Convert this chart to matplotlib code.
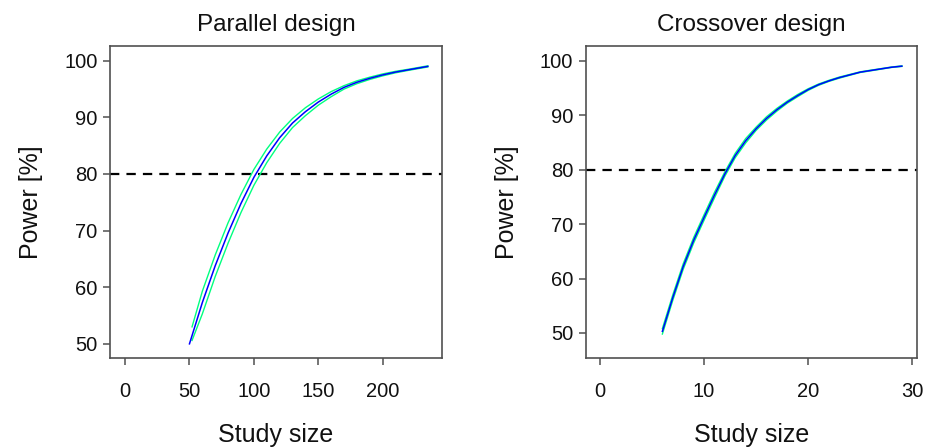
import matplotlib
matplotlib.use("Agg")
import matplotlib.pyplot as plt

plt.rcParams['font.family'] = ['Liberation Sans', 'DejaVu Sans']

# Parallel design
par_n = [50, 60, 70, 80, 90, 100, 110, 120, 130, 140, 150, 160, 170, 180, 190, 200, 210, 220, 235]
par_power = [50.0, 57.3, 63.8, 69.6, 74.8, 79.4, 83.2, 86.4, 89.0, 91.0, 92.7, 94.1, 95.3, 96.2, 96.9, 97.5, 98.0, 98.4, 99.0]
par_upper_n = [52, 60, 70, 80, 90, 100, 110, 120, 130, 140, 150, 160, 170, 180, 190, 200, 210, 220, 235]
par_upper = [53.0, 59.3, 65.7, 71.4, 76.4, 80.8, 84.4, 87.4, 89.8, 91.7, 93.25, 94.55, 95.6, 96.45, 97.1, 97.67, 98.13, 98.5, 99.1]
par_lower = [50.6, 55.3, 61.9, 67.8, 73.2, 78.0, 82.0, 85.4, 88.2, 90.3, 92.15, 93.65, 95.0, 95.95, 96.7, 97.33, 97.87, 98.3, 98.9]

# Crossover design
cro_n = [6, 7, 8, 9, 10, 11, 12, 13, 14, 15, 16, 17, 18, 19, 20, 21, 22, 23, 24, 25, 26, 27, 28, 29]
cro_power = [50.3, 56.5, 62.2, 67.0, 71.2, 75.3, 79.2, 82.6, 85.3, 87.5, 89.4, 91.0, 92.4, 93.6, 94.7, 95.6, 96.3, 96.9, 97.4, 97.9, 98.2, 98.5, 98.8, 99.0]
cro_upper = [50.8, 57.0, 62.7, 67.5, 71.7, 75.8, 79.6, 83.0, 85.7, 87.8, 89.7, 91.25, 92.6, 93.8, 94.85, 95.72, 96.4, 97.0, 97.48, 97.96, 98.26, 98.55, 98.84, 99.05]
cro_lower = [49.8, 56.0, 61.7, 66.5, 70.7, 74.8, 78.8, 82.2, 84.9, 87.2, 89.1, 90.75, 92.2, 93.4, 94.55, 95.48, 96.2, 96.8, 97.32, 97.84, 98.14, 98.45, 98.76, 98.95]

threshold = 80

titles = ["Parallel design", "Crossover design"]
xlabel = "Study size"
ylabel = "Power [%]"

fig = plt.figure(figsize=(9.36, 4.48), dpi=100)
ax1 = fig.add_axes([0.1175, 0.2009, 0.3547, 0.6964])
ax2 = fig.add_axes([0.6257, 0.2009, 0.3536, 0.6964])

green = '#00FF7F'
blue = '#0000FF'
frame = '#505050'

def style(ax, title, xlim, ylim, xticks):
    ax.set_xlim(*xlim)
    ax.set_ylim(*ylim)
    ax.set_xticks(xticks)
    ax.set_yticks([50, 60, 70, 80, 90, 100])
    ax.axhline(threshold, color='black', lw=1.6, dashes=(4.2, 3.2), zorder=1)
    for s in ax.spines.values():
        s.set_color(frame)
        s.set_linewidth(1.2)
    ax.tick_params(axis='both', direction='out', length=5, width=1.1, color=frame,
                   labelsize=14.5, labelcolor='#111111')
    ax.tick_params(axis='x', pad=12)
    ax.tick_params(axis='y', pad=4)
    ax.set_title(title, fontsize=17.5, pad=11, color='#111111')
    ax.set_xlabel(xlabel, fontsize=18, labelpad=16, color='#111111')
    ax.set_ylabel(ylabel, fontsize=18, labelpad=15, color='#111111')

ax1.plot(par_upper_n, par_upper, color=green, lw=1.0, zorder=2)
ax1.plot(par_upper_n, par_lower, color=green, lw=1.0, zorder=2)
ax1.plot(par_n, par_power, color=blue, lw=1.1, zorder=3)
style(ax1, titles[0], (-11.7, 246), (47.5, 102.6), [0, 50, 100, 150, 200])

ax2.plot(cro_n, cro_upper, color=green, lw=1.0, zorder=2)
ax2.plot(cro_n, cro_lower, color=green, lw=1.0, zorder=2)
ax2.plot(cro_n, cro_power, color=blue, lw=1.1, zorder=3)
style(ax2, titles[1], (-1.37, 30.42), (45.4, 102.7), [0, 10, 20, 30])

fig.savefig("out.png", dpi=100)
